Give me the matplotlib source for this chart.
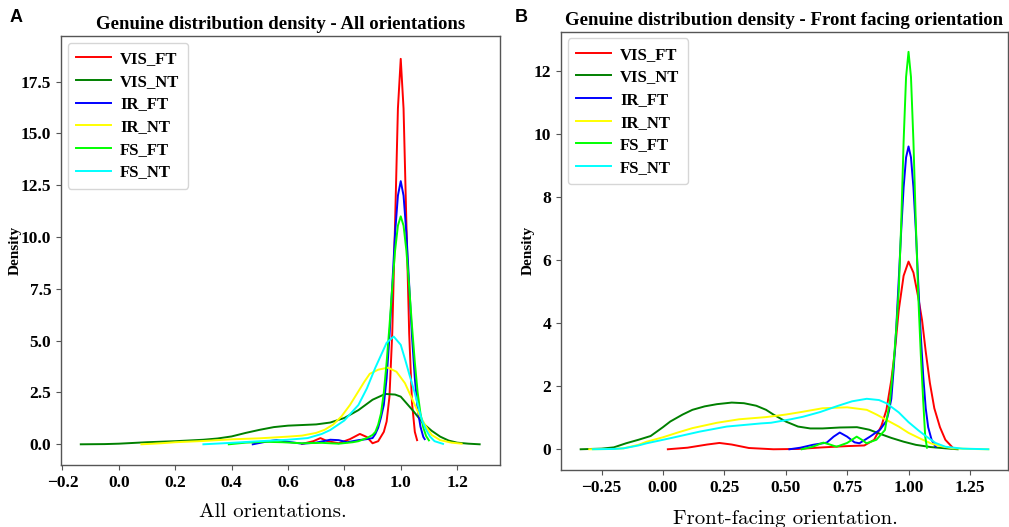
import numpy as np
import matplotlib
matplotlib.use("Agg")
import matplotlib.pyplot as plt

# series names and colours
labels = ["VIS_FT", "VIS_NT", "IR_FT", "IR_NT", "FS_FT", "FS_NT"]
colors = ["red", "green", "blue", "yellow", "lime", "cyan"]

# ---- panel A: all orientations (density curves) ----
all_vis_ft_x = [0.65, 0.69, 0.715, 0.74, 0.78, 0.82, 0.855, 0.88, 0.90, 0.92, 0.94, 0.95, 0.96,
                0.97, 0.98, 0.99, 1.0, 1.01, 1.02, 1.03, 1.04, 1.05, 1.058]
all_vis_ft_y = [0.02, 0.15, 0.3, 0.15, 0.05, 0.25, 0.5, 0.35, 0.05, 0.15, 0.6, 1.1, 2.3,
                5.4, 10.7, 16.2, 18.6, 16.2, 10.7, 5.35, 2.0, 0.6, 0.2]

all_vis_nt_x = [-0.135, -0.05, 0.0, 0.1, 0.2, 0.3, 0.35, 0.4, 0.45, 0.5, 0.55, 0.6, 0.65, 0.7,
                0.75, 0.8, 0.85, 0.9, 0.945, 0.98, 1.0, 1.045, 1.08, 1.11, 1.14, 1.17, 1.2,
                1.24, 1.28]
all_vis_nt_y = [0.0, 0.01, 0.03, 0.1, 0.15, 0.22, 0.28, 0.38, 0.55, 0.7, 0.83, 0.9, 0.93, 0.96,
                1.05, 1.27, 1.65, 2.15, 2.43, 2.4, 2.3, 1.6, 1.0, 0.65, 0.37, 0.18, 0.08,
                0.03, 0.0]

all_ir_ft_x = [0.475, 0.52, 0.56, 0.60, 0.65, 0.70, 0.75, 0.78, 0.81, 0.85, 0.88, 0.90, 0.91,
               0.92, 0.93, 0.94, 0.95, 0.96, 0.97, 0.98, 0.99, 1.0, 1.01, 1.02, 1.03, 1.04,
               1.05, 1.06, 1.07, 1.08, 1.085]
all_ir_ft_y = [0.0, 0.12, 0.21, 0.12, 0.03, 0.08, 0.22, 0.2, 0.1, 0.2, 0.25, 0.3, 0.5,
               0.8, 1.3, 1.9, 3.2, 5.2, 7.7, 10.2, 12.0, 12.7, 12.0, 10.2, 7.7, 5.2,
               3.2, 1.7, 0.85, 0.36, 0.25]

all_ir_nt_x = [0.08, 0.15, 0.2, 0.3, 0.4, 0.5, 0.6, 0.65, 0.7, 0.73, 0.76, 0.79, 0.82, 0.845,
               0.87, 0.89, 0.92, 0.955, 0.985, 1.015, 1.04, 1.065, 1.09, 1.11, 1.14, 1.18, 1.216]
all_ir_nt_y = [0.0, 0.05, 0.1, 0.16, 0.24, 0.29, 0.37, 0.42, 0.55, 0.7, 0.95, 1.35, 1.9, 2.45,
               3.0, 3.4, 3.6, 3.7, 3.5, 2.95, 2.2, 1.45, 0.85, 0.45, 0.2, 0.08, 0.03]

all_fs_ft_x = [0.39, 0.45, 0.52, 0.58, 0.65, 0.72, 0.78, 0.83, 0.85, 0.88, 0.90, 0.91, 0.92,
               0.93, 0.94, 0.95, 0.96, 0.97, 0.98, 0.99, 1.0, 1.01, 1.02, 1.03, 1.04, 1.05,
               1.06, 1.07, 1.08, 1.09, 1.10]
all_fs_ft_y = [0.0, 0.08, 0.12, 0.1, 0.05, 0.07, 0.03, 0.1, 0.15, 0.3, 0.45, 0.6, 0.95,
               1.49, 2.5, 3.96, 5.7, 7.6, 9.35, 10.55, 11.0, 10.55, 9.35, 7.6, 5.7, 3.96,
               2.5, 1.49, 0.81, 0.4, 0.19]

all_fs_nt_x = [0.30, 0.4, 0.5, 0.6, 0.67, 0.72, 0.75, 0.8, 0.82, 0.85, 0.88, 0.91, 0.93, 0.95,
               0.975, 1.0, 1.016, 1.03, 1.05, 1.075, 1.09, 1.104, 1.12, 1.15]
all_fs_nt_y = [0.0, 0.07, 0.15, 0.22, 0.3, 0.5, 0.69, 1.15, 1.45, 1.9, 2.7, 3.7, 4.3, 4.9,
               5.2, 4.8, 4.07, 3.4, 2.46, 1.17, 0.7, 0.37, 0.15, 0.02]

# ---- panel B: front facing orientation ----
ff_vis_ft_x = [0.02, 0.1, 0.18, 0.23, 0.28, 0.35, 0.45, 0.55, 0.65, 0.75, 0.82, 0.86, 0.89,
               0.91, 0.93, 0.945, 0.96, 0.98, 1.0, 1.02, 1.04, 1.055, 1.07, 1.087, 1.105,
               1.128, 1.15, 1.18]
ff_vis_ft_y = [0.0, 0.05, 0.15, 0.2, 0.15, 0.04, 0.0, 0.01, 0.06, 0.1, 0.12, 0.3, 0.75,
               1.25, 2.2, 3.15, 4.4, 5.5, 5.95, 5.6, 4.8, 4.1, 3.1, 2.1, 1.3,
               0.7, 0.3, 0.05]

ff_vis_nt_x = [-0.335, -0.25, -0.2, -0.15, -0.1, -0.05, 0.0, 0.03, 0.08, 0.12, 0.17, 0.22,
               0.28, 0.33, 0.38, 0.42, 0.45, 0.5, 0.55, 0.6, 0.65, 0.72, 0.79, 0.84, 0.88,
               0.93, 0.98, 1.03, 1.09, 1.15, 1.2]
ff_vis_nt_y = [0.0, 0.02, 0.06, 0.19, 0.3, 0.42, 0.7, 0.88, 1.1, 1.25, 1.36, 1.43,
               1.48, 1.46, 1.38, 1.25, 1.1, 0.88, 0.72, 0.66, 0.66, 0.69, 0.7, 0.62, 0.5,
               0.36, 0.24, 0.14, 0.07, 0.03, 0.0]

ff_ir_ft_x = [0.515, 0.56, 0.61, 0.667, 0.695, 0.72, 0.75, 0.78, 0.8, 0.843, 0.884, 0.91,
              0.92, 0.93, 0.94, 0.95, 0.96, 0.97, 0.98, 0.99, 1.0, 1.01, 1.02, 1.03, 1.04,
              1.05, 1.06, 1.07, 1.08, 1.094, 1.11]
ff_ir_ft_y = [0.0, 0.05, 0.14, 0.21, 0.4, 0.53, 0.4, 0.22, 0.19, 0.4, 0.62, 0.9,
              1.2, 1.6, 2.6, 3.85, 5.35, 6.9, 8.3, 9.25, 9.6, 9.25, 8.3, 6.9, 5.2,
              3.6, 2.3, 1.3, 0.7, 0.3, 0.08]

ff_ir_nt_x = [-0.3, -0.2, -0.16, -0.1, -0.066, 0.0, 0.06, 0.12, 0.22, 0.31, 0.42, 0.5, 0.57,
              0.65, 0.75, 0.83, 0.87, 0.91, 0.96, 1.0, 1.05, 1.09, 1.13, 1.18, 1.25, 1.325]
ff_ir_nt_y = [0.0, 0.01, 0.03, 0.14, 0.24, 0.38, 0.53, 0.67, 0.84, 0.95, 1.02, 1.1, 1.19,
              1.3, 1.33, 1.25, 1.1, 0.93, 0.72, 0.52, 0.33, 0.19, 0.1, 0.03, 0.01, 0.0]

ff_fs_ft_x = [0.565, 0.61, 0.653, 0.68, 0.707, 0.75, 0.789, 0.81, 0.829, 0.869, 0.904, 0.924,
              0.94, 0.95, 0.96, 0.97, 0.98, 0.99, 1.0, 1.01, 1.02, 1.03, 1.04, 1.05, 1.06,
              1.068, 1.075]
ff_fs_ft_y = [0.0, 0.08, 0.21, 0.15, 0.08, 0.2, 0.4, 0.3, 0.19, 0.3, 0.61, 1.5,
              2.8, 3.8, 5.0, 7.1, 9.76, 11.8, 12.6, 11.8, 9.76, 7.1, 4.8, 3.0, 1.5,
              0.4, 0.05]

ff_fs_nt_x = [-0.285, -0.2, -0.16, -0.1, -0.066, 0.03, 0.15, 0.26, 0.4, 0.44, 0.52, 0.57,
              0.64, 0.71, 0.77, 0.83, 0.88, 0.91, 0.96, 1.0, 1.04, 1.07, 1.11, 1.15, 1.22, 1.325]
ff_fs_nt_y = [0.0, 0.01, 0.03, 0.12, 0.19, 0.35, 0.56, 0.72, 0.82, 0.84, 0.95, 1.03,
              1.18, 1.37, 1.52, 1.6, 1.56, 1.46, 1.17, 0.86, 0.6, 0.42, 0.2, 0.08, 0.02, 0.0]

all_curves = [(all_vis_ft_x, all_vis_ft_y), (all_vis_nt_x, all_vis_nt_y),
              (all_ir_ft_x, all_ir_ft_y), (all_ir_nt_x, all_ir_nt_y),
              (all_fs_ft_x, all_fs_ft_y), (all_fs_nt_x, all_fs_nt_y)]
ff_curves = [(ff_vis_ft_x, ff_vis_ft_y), (ff_vis_nt_x, ff_vis_nt_y),
             (ff_ir_ft_x, ff_ir_ft_y), (ff_ir_nt_x, ff_ir_nt_y),
             (ff_fs_ft_x, ff_fs_ft_y), (ff_fs_nt_x, ff_fs_nt_y)]

all_xticks = [-0.2, 0.0, 0.2, 0.4, 0.6, 0.8, 1.0, 1.2]
all_yticks = [0.0, 2.5, 5.0, 7.5, 10.0, 12.5, 15.0, 17.5]
ff_xticks = [-0.25, 0.0, 0.25, 0.5, 0.75, 1.0, 1.25]
ff_yticks = [0, 2, 4, 6, 8, 10, 12]

plt.rcParams["font.family"] = ["Liberation Serif", "DejaVu Serif"]
plt.rcParams["font.weight"] = "bold"
plt.rcParams["axes.unicode_minus"] = True

SPINE = "#555555"


def draw_panel(ax, curves, title, xticks, yticks, xfmt, yfmt):
    for (xs, ys), lab, col in zip(curves, labels, colors):
        ax.plot(np.array(xs), np.array(ys), color=col, lw=1.4, label=lab)
    ax.set_title(title, fontsize=13.5, fontweight="bold", pad=5)
    ax.set_xticks(xticks)
    ax.set_yticks(yticks)
    ax.set_xticklabels([xfmt.format(t).replace("-", "\u2212") for t in xticks])
    ax.set_yticklabels([yfmt.format(t) for t in yticks])
    ax.tick_params(labelsize=12.5, color=SPINE, length=3.5)
    for lbl in ax.get_xticklabels() + ax.get_yticklabels():
        lbl.set_fontweight("bold")
    for sp in ax.spines.values():
        sp.set_color(SPINE)
        sp.set_linewidth(1.0)
    ax.set_ylabel("Density", fontsize=11, fontweight="bold")
    leg = ax.legend(loc="upper left", fontsize=12, handlelength=2.1,
                    borderpad=0.5, labelspacing=0.4, handletextpad=0.55,
                    borderaxespad=0.4)
    for t in leg.get_texts():
        t.set_fontweight("bold")


fig = plt.figure(figsize=(10.09, 5.27), dpi=100)

ax1 = fig.add_axes([0.0605, 0.1176, 0.435, 0.814])
draw_panel(ax1, all_curves, "Genuine distribution density - All orientations",
           all_xticks, all_yticks, "{:.1f}", "{:.1f}")
ax1.set_xlim(-0.205, 1.352)
ax1.set_ylim(-1.0, 19.7)
ax1.yaxis.set_label_coords(-0.089, 0.5)

ax2 = fig.add_axes([0.556, 0.108, 0.443, 0.832])
draw_panel(ax2, ff_curves, "Genuine distribution density - Front facing orientation",
           ff_xticks, ff_yticks, "{:.2f}", "{:d}")
ax2.set_xlim(-0.415, 1.405)
ax2.set_ylim(-0.66, 13.24)
ax2.yaxis.set_label_coords(-0.058, 0.5)

# panel letters and captions
fig.text(10 / 1009, 1 - 18 / 527, "A", fontsize=13, fontweight="bold",
         family="Liberation Sans", ha="left", va="center")
fig.text(515 / 1009, 1 - 18 / 527, "B", fontsize=13, fontweight="bold",
         family="Liberation Sans", ha="left", va="center")
fig.text(273 / 1009, 1 - 512 / 527, "All orientations.", fontsize=15,
         family="cmr10", fontweight="normal", ha="center", va="center")
fig.text(785 / 1009, 1 - 519 / 527, "Front-facing orientation.", fontsize=15,
         family="cmr10", fontweight="normal", ha="center", va="center")

fig.savefig("out.png", dpi=100)
